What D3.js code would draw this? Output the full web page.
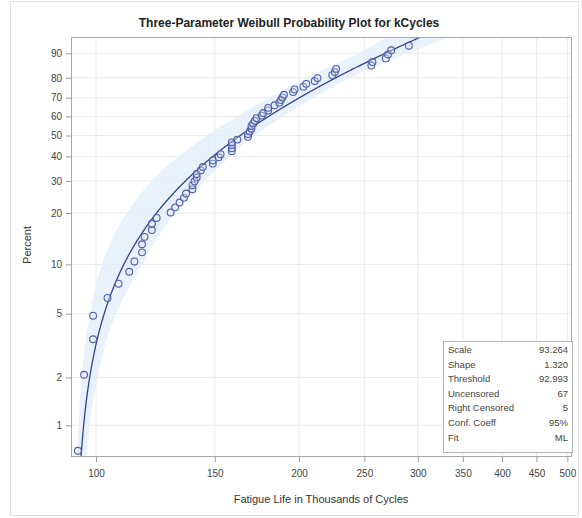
<!DOCTYPE html>
<html>
<head>
<meta charset="utf-8">
<script src="https://cdn.jsdelivr.net/npm/d3@7"></script>
<style>
  html, body { margin: 0; padding: 0; background: #fff; }
  svg { display: block; font-family: "Liberation Sans", Arial, sans-serif; }
</style>
</head>
<body>
<svg id="chart" width="582" height="518"></svg>
<script>
// Fatigue life (thousands of cycles) of the uncensored specimens, in order
const kCycles = [94, 96, 99, 99, 104, 108, 112, 114, 117, 117, 118, 121, 121, 123, 129, 131,
  133, 135, 136, 139, 139, 140, 141, 141, 143, 144, 149, 149, 152, 153, 159, 159, 159, 159,
  162, 168, 168, 169, 170, 170, 171, 172, 173, 176, 177, 180, 180, 184, 187, 188, 189, 190,
  196, 197, 203, 205, 211, 213, 224, 226, 227, 256, 257, 269, 271, 274, 291];

// Plotting positions (percent) of those specimens
const percents = [0.69, 2.08, 3.47, 4.86, 6.25, 7.64, 9.03, 10.42, 11.81, 13.19, 14.58, 15.97,
  17.36, 18.75, 20.14, 21.53, 22.92, 24.31, 25.69, 27.08, 28.47, 29.86, 31.25, 32.64, 34.03,
  35.42, 36.81, 38.19, 39.58, 40.97, 42.36, 43.75, 45.14, 46.53, 47.92, 49.31, 50.69, 52.08,
  53.47, 54.86, 56.25, 57.64, 59.03, 60.42, 61.81, 63.19, 64.58, 65.97, 67.36, 68.75, 70.14,
  71.53, 72.92, 74.31, 75.69, 77.08, 78.47, 79.86, 81.25, 82.64, 84.03, 85.42, 86.81, 88.19,
  89.58, 90.97, 92.36];

// Fitted three-parameter Weibull
const fitScale = 93.264;
const fitShape = 1.320;
const fitThreshold = 92.993;

// Pointwise confidence band: percent levels with lower / upper life (kCycles)
const bandPct   = [0.5, 1, 2, 5, 10, 20, 30, 50, 70, 80, 90, 95, 97];
const bandLower = [93.6, 94.2, 95.2, 98, 102, 111, 121, 146, 181, 205, 245, 275, 300];
const bandUpper = [96.5, 97.8, 100.5, 107, 117, 131, 145, 172, 210, 238, 290, 340, 380];

const statLabels = ["Scale", "Shape", "Threshold", "Uncensored", "Right Censored", "Conf. Coeff", "Fit"];
const statValues = ["93.264", "1.320", "92.993", "67", "5", "95%", "ML"];

const xTicks = [100, 150, 200, 250, 300, 350, 400, 450, 500];
const yTicks = [1, 2, 5, 10, 20, 30, 40, 50, 60, 70, 80, 90];

const svg = d3.select("#chart");
const W = 582, H = 518;
const plot = { left: 71, right: 572, top: 37, bottom: 457 };

// Weibull probability transform: ln(-ln(1 - p))
const wb = p => Math.log(-Math.log(1 - p / 100));

const x = d3.scaleLog().domain([91.8, 508]).range([plot.left, plot.right]);
const yLin = d3.scaleLinear().domain([-5.064, 1.072]).range([plot.bottom, plot.top]);
const y = p => yLin(wb(p));

svg.append("rect").attr("x", 0).attr("y", 0).attr("width", W).attr("height", H).attr("fill", "#fff");
svg.append("rect").attr("x", 10.5).attr("y", 1.5).attr("width", 568).attr("height", 514)
  .attr("fill", "none").attr("stroke", "#e2e2e2");

svg.append("defs").append("clipPath").attr("id", "clip")
  .append("rect").attr("x", plot.left).attr("y", plot.top)
  .attr("width", plot.right - plot.left).attr("height", plot.bottom - plot.top);

// gridlines
const grid = svg.append("g");
grid.selectAll("line.gy").data(yTicks).join("line")
  .attr("x1", plot.left).attr("x2", plot.right)
  .attr("y1", d => y(d)).attr("y2", d => y(d))
  .attr("stroke", "#ebebeb").attr("stroke-width", 1);
grid.selectAll("line.gx").data(xTicks).join("line")
  .attr("y1", plot.top).attr("y2", plot.bottom)
  .attr("x1", d => x(d)).attr("x2", d => x(d))
  .attr("stroke", "#ebebeb").attr("stroke-width", 1);

const g = svg.append("g").attr("clip-path", "url(#clip)");

// confidence band
const bandData = bandPct.map((p, i) => ({ p, lo: bandLower[i], hi: bandUpper[i] }));
g.append("path")
  .datum(bandData)
  .attr("d", d3.area()
    .y(d => y(d.p))
    .x0(d => x(d.lo))
    .x1(d => x(d.hi))
    .curve(d3.curveMonotoneY))
  .attr("fill", "#e4eef9").attr("opacity", 0.8);

// fitted distribution line
const fitPct = d3.range(0.3, 98.01, 0.1);
const fitPts = fitPct.map(p => ({ p, v: fitThreshold + fitScale * Math.pow(-Math.log(1 - p / 100), 1 / fitShape) }));
g.append("path")
  .datum(fitPts)
  .attr("d", d3.line().x(d => x(d.v)).y(d => y(d.p)))
  .attr("fill", "none").attr("stroke", "#2f4391").attr("stroke-width", 1.3);

// observations
g.selectAll("circle").data(kCycles).join("circle")
  .attr("cx", d => x(d)).attr("cy", (d, i) => y(percents[i]))
  .attr("r", 3.4)
  .attr("fill", "#dfe6f5").attr("fill-opacity", 0.35)
  .attr("stroke", "#4d5fa8").attr("stroke-width", 1.1);

// frame
svg.append("rect").attr("x", plot.left + 0.5).attr("y", plot.top + 0.5)
  .attr("width", plot.right - plot.left - 1).attr("height", plot.bottom - plot.top - 1)
  .attr("fill", "none").attr("stroke", "#a8a8a8");

// axes
const xAxis = d3.axisBottom(x).tickValues(xTicks).tickFormat(d3.format("d")).tickSize(5).tickPadding(8);
const gx = svg.append("g").attr("transform", `translate(0,${plot.bottom})`).call(xAxis);
gx.select(".domain").remove();
gx.selectAll("line").attr("stroke", "#999");
gx.selectAll("text").attr("font-size", "10px").attr("fill", "#444").attr("font-family", "Liberation Sans, Arial, sans-serif");

const yAxisScale = d3.scaleLinear().domain(yLin.domain()).range(yLin.range());
const yAxis = d3.axisLeft(yAxisScale).tickValues(yTicks.map(wb)).tickFormat((d, i) => yTicks[i]).tickSize(5).tickPadding(4);
const gy = svg.append("g").attr("transform", `translate(${plot.left},0)`).call(yAxis);
gy.select(".domain").remove();
gy.selectAll("line").attr("stroke", "#999");
gy.selectAll("text").attr("font-size", "10px").attr("fill", "#444").attr("font-family", "Liberation Sans, Arial, sans-serif");

// titles
svg.append("text").attr("x", 289).attr("y", 27).attr("text-anchor", "middle")
  .attr("font-size", "12px").attr("font-weight", "bold").attr("fill", "#222")
  .text("Three-Parameter Weibull Probability Plot for kCycles");
svg.append("text").attr("x", 321).attr("y", 503).attr("text-anchor", "middle")
  .attr("font-size", "11px").attr("fill", "#333")
  .text("Fatigue Life in Thousands of Cycles");
svg.append("text").attr("transform", "translate(31,245) rotate(-90)").attr("text-anchor", "middle")
  .attr("font-size", "11px").attr("fill", "#333")
  .text("Percent");

// fit summary inset
const inset = svg.append("g");
inset.append("rect").attr("x", 443.5).attr("y", 341.5).attr("width", 129).attr("height", 111)
  .attr("fill", "#fff").attr("stroke", "#b5b5b5");
inset.selectAll("text.lab").data(statLabels).join("text")
  .attr("x", 448).attr("y", (d, i) => 353 + i * 14.6)
  .attr("font-size", "9.5px").attr("fill", "#444").text(d => d);
inset.selectAll("text.val").data(statValues).join("text")
  .attr("x", 568).attr("y", (d, i) => 353 + i * 14.6).attr("text-anchor", "end")
  .attr("font-size", "9.5px").attr("fill", "#444").text(d => d);
</script>
</body>
</html>
